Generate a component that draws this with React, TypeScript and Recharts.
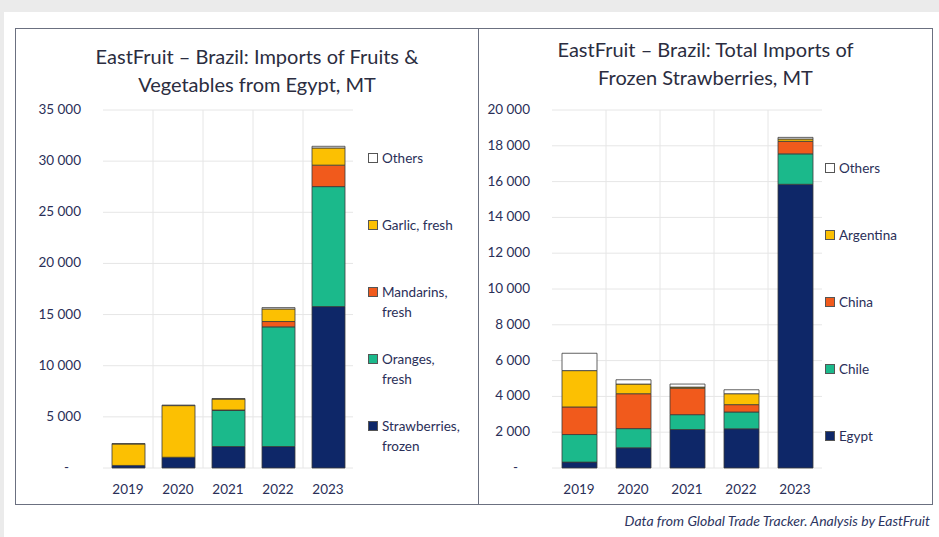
import React from 'react';
import { BarChart, Bar, XAxis, YAxis, CartesianGrid } from 'recharts';

const years = ['2019', '2020', '2021', '2022', '2023'];

// left chart: imports from Egypt, MT
const strawberriesFrozen = [250, 1050, 2100, 2100, 15780];
const orangesFresh = [0, 0, 3540, 11700, 11730];
const mandarinsFresh = [0, 0, 30, 520, 2100];
const garlicFresh = [2100, 5050, 1070, 1230, 1680];
const othersEgypt = [40, 50, 50, 130, 160];
const leftTicks = [0, 5000, 10000, 15000, 20000, 25000, 30000, 35000];

// right chart: frozen strawberries by origin, MT
const egypt = [330, 1130, 2150, 2190, 15850];
const chile = [1540, 1070, 830, 940, 1700];
const china = [1540, 1950, 1480, 410, 700];
const argentina = [2030, 540, 60, 610, 130];
const othersOrigin = [970, 240, 170, 220, 90];
const rightTicks = [0, 2000, 4000, 6000, 8000, 10000, 12000, 14000, 16000, 18000, 20000];

const NAVY = '#0e2768';
const TEAL = '#1bb98b';
const ORANGE = '#f15a1c';
const GOLD = '#fcc002';
const WHITE = '#ffffff';
const TEXT = '#2a2f58';
const FONT = 'Lato, "Open Sans", sans-serif';

type Series = { key: string; name: string; label: string; color: string; values: number[] };

const leftSeries: Series[] = [
  { key: 'straw', name: 'Strawberries, frozen', label: 'Strawberries,\nfrozen', color: NAVY, values: strawberriesFrozen },
  { key: 'oranges', name: 'Oranges, fresh', label: 'Oranges,\nfresh', color: TEAL, values: orangesFresh },
  { key: 'mandarins', name: 'Mandarins, fresh', label: 'Mandarins,\nfresh', color: ORANGE, values: mandarinsFresh },
  { key: 'garlic', name: 'Garlic, fresh', label: 'Garlic, fresh', color: GOLD, values: garlicFresh },
  { key: 'others', name: 'Others', label: 'Others', color: WHITE, values: othersEgypt },
];

const rightSeries: Series[] = [
  { key: 'egypt', name: 'Egypt', label: 'Egypt', color: NAVY, values: egypt },
  { key: 'chile', name: 'Chile', label: 'Chile', color: TEAL, values: chile },
  { key: 'china', name: 'China', label: 'China', color: ORANGE, values: china },
  { key: 'argentina', name: 'Argentina', label: 'Argentina', color: GOLD, values: argentina },
  { key: 'others', name: 'Others', label: 'Others', color: WHITE, values: othersOrigin },
];

const toRows = (series: Series[]) =>
  years.map((year, i) => {
    const row: Record<string, string | number> = { year };
    series.forEach((s) => (row[s.key] = s.values[i]));
    return row;
  });

const fmt = (v: number) => String(v).replace(/\B(?=(\d{3})+(?!\d))/g, ' ');

const YTick = (props: any) => {
  const { x, y, payload } = props;
  const zero = payload.value === 0;
  return (
    <text x={zero ? x - 12 : x} y={y} dy={4} textAnchor="end" fill={TEXT} fontSize={13.5} fontFamily={FONT}>
      {zero ? '-' : fmt(payload.value)}
    </text>
  );
};

function Legend({ series, left, top }: { series: Series[]; left: number; top: number }) {
  return (
    <div style={{ position: 'absolute', left, top, fontFamily: FONT, fontSize: 13.5, color: TEXT }}>
      {[...series].reverse().map((s, i) => (
        <div key={s.key} style={{ position: 'absolute', top: i * 67, left: 0, display: 'flex', alignItems: 'flex-start', width: 110 }}>
          <span
            style={{
              width: 8,
              height: 8,
              marginTop: 1,
              marginRight: 4,
              background: s.color,
              border: '1px solid #555',
              flex: 'none',
            }}
          />
          <span style={{ whiteSpace: 'pre-line', lineHeight: '20px', marginTop: -4 }}>{s.label}</span>
        </div>
      ))}
    </div>
  );
}

function StackChart({ series, ticks, max, yWidth, right, barSize }: { series: Series[]; ticks: number[]; max: number; yWidth: number; right: number; barSize: number }) {
  return (
    <BarChart
      width={yWidth + 250 + right + (barSize > 33 ? 20 : 0)}
      height={477}
      data={toRows(series)}
      margin={{ top: 82, right, bottom: 7, left: 0 }}
      barSize={barSize}
    >
      <CartesianGrid
        stroke="#e6e6e6"
        verticalCoordinatesGenerator={({ offset }: any) =>
          years.slice(1).map((_, i) => offset.left + ((i + 1) * offset.width) / years.length)
        }
      />
      <XAxis
        dataKey="year"
        axisLine={false}
        tickLine={false}
        tickMargin={10}
        height={30}
        tick={{ fill: TEXT, fontSize: 13.5, fontFamily: FONT }}
      />
      <YAxis
        width={yWidth}
        domain={[0, max]}
        ticks={ticks}
        axisLine={false}
        tickLine={false}
        tickSize={0}
        tickMargin={22}
        tick={<YTick />}
        interval={0}
      />
      {series.map((s) => (
        <Bar key={s.key} dataKey={s.key} name={s.name} stackId="a" fill={s.color} stroke="#3a3a3a" strokeWidth={0.8} isAnimationActive={false} />
      ))}
    </BarChart>
  );
}

const titleStyle: React.CSSProperties = {
  position: 'absolute',
  textAlign: 'center',
  fontFamily: FONT,
  fontSize: 20,
  lineHeight: '28px',
  color: '#2b2d40',
};

export default function App() {
  return (
    <div style={{ position: 'relative', width: 939, height: 537, background: '#ffffff', overflow: 'hidden' }}>
      <style>{`body{margin:0}`}</style>
      <div style={{ position: 'absolute', left: 0, top: 0, width: 939, height: 12, background: '#ebebeb' }} />
      <div style={{ position: 'absolute', left: 0, top: 0, width: 4, height: 537, background: '#ebebeb' }} />
      <div style={{ position: 'absolute', left: 15, top: 28, width: 918, height: 477, border: '1px solid #6b7080', boxSizing: 'border-box' }} />
      <div style={{ position: 'absolute', left: 478, top: 28, width: 1, height: 477, background: '#6b7080' }} />

      <div style={{ ...titleStyle, left: 15, top: 42, width: 484 }}>
        EastFruit – Brazil: Imports of Fruits &amp;
        <br />
        Vegetables from Egypt, MT
      </div>
      <div style={{ ...titleStyle, left: 478, top: 35, width: 455 }}>
        EastFruit – Brazil: Total Imports of
        <br />
        Frozen Strawberries, MT
      </div>

      <div style={{ position: 'absolute', left: 15, top: 28 }}>
        <StackChart series={leftSeries} ticks={leftTicks} max={35000} yWidth={88} right={124} barSize={33} />
      </div>
      <div style={{ position: 'absolute', left: 478, top: 28 }}>
        <StackChart series={rightSeries} ticks={rightTicks} max={20000} yWidth={74} right={91} barSize={35} />
      </div>

      <Legend series={leftSeries} left={368} top={152} />
      <Legend series={rightSeries} left={825} top={162} />

      <div
        style={{
          position: 'absolute',
          right: 9,
          top: 512,
          fontFamily: FONT,
          fontStyle: 'italic',
          fontSize: 14,
          color: '#2d3561',
        }}
      >
        Data from Global Trade Tracker. Analysis by EastFruit
      </div>
    </div>
  );
}
